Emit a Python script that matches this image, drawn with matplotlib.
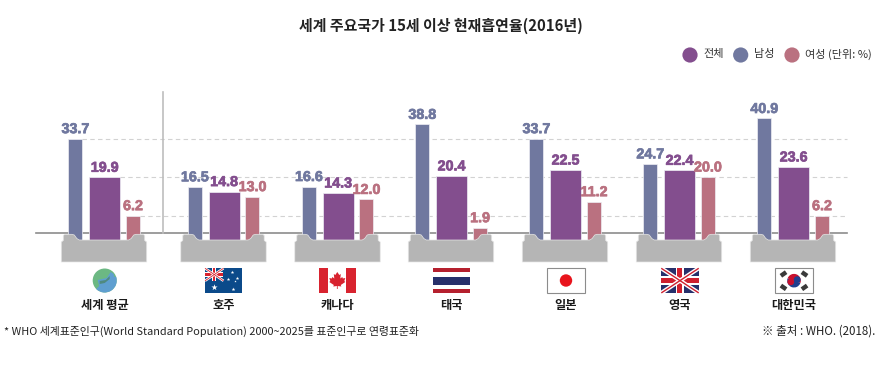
import numpy as np
import matplotlib
matplotlib.use("Agg")
import matplotlib.pyplot as plt
import matplotlib.patheffects as pe
from matplotlib.patches import Circle, Polygon, Rectangle, Wedge

plt.rcParams['font.family'] = ['Noto Sans CJK KR', 'DejaVu Sans']

countries = ["세계 평균", "호주", "캐나다", "태국", "일본", "영국", "대한민국"]
total = [19.9, 14.8, 14.3, 20.4, 22.5, 22.4, 23.6]
male = [33.7, 16.5, 16.6, 38.8, 33.7, 24.7, 40.9]
female = [6.2, 13.0, 12.0, 1.9, 11.2, 20.0, 6.2]
grid_values = [33.7, 19.9, 6.2]
legend_names = ["전체", "남성", "여성 (단위: %)"]

c_total = "#834e8e"
c_male = "#70789f"
c_female = "#ba7180"
c_ped = "#b5b5b5"

W, H = 878, 366
base_y = 233
scale = 2.8
sink = 2.5  # bars run down into the pedestal
centers = [104, 223.5, 337.5, 451, 565, 679, 793]

fig = plt.figure(figsize=(W / 100, H / 100), dpi=100)
ax = fig.add_axes([0, 0, 1, 1])
ax.set_xlim(0, W)
ax.set_ylim(-(H - base_y) / scale, base_y / scale)
ax.axis("off")

# pixel overlay for the pedestals, flags and text
px = fig.add_axes([0, 0, 1, 1], zorder=3)
px.set_xlim(0, W)
px.set_ylim(H, 0)
px.axis("off")
px.patch.set_alpha(0)

right_edges = [82, 120, 140]
for v, x0 in zip(grid_values, right_edges):
    ax.plot([x0, 847], [v, v], color="#d2d2d2", lw=0.8, ls=(0, (4, 3)), zorder=1)
ax.plot([36, 847], [0, 0], color="#8c8c8c", lw=1.2, zorder=1)
ax.plot([163, 163], [0, (base_y - 92) / scale], color="#bdbdbd", lw=1.2, zorder=1)

cx = np.array(centers)
for off, w, vals, col in [(-28.7, 14, male, c_male), (0.6, 31, total, c_total), (29, 14, female, c_female)]:
    ax.bar(cx + off, np.array(vals) + sink, w, bottom=-sink, color=col, edgecolor="#eeeef4", lw=0.5, zorder=2)
    for c, v in zip(centers, vals):
        ax.text(c + off, v + 5.5 / scale, f"{v:.1f}", color=col, ha="center", va="baseline",
                fontsize=10.3, family="Liberation Sans", fontweight="bold", zorder=4,
                path_effects=[pe.withStroke(linewidth=0.5, foreground=col)])

# pedestals
for c in centers:
    l, r = c - 42.7, c + 42.7
    pts = [(l, 262), (l, 242), (l + 2, 240.5), (l + 2, 235.5), (l + 3.5, 234.3), (l + 10.5, 234.3),
           (l + 13, 235), (l + 15.5, 238.5), (l + 18, 240), (r - 18, 240), (r - 15.5, 238.5),
           (r - 13, 235), (r - 10.5, 234.3), (r - 3.5, 234.3), (r - 2, 235.5), (r - 2, 240.5),
           (r, 242), (r, 262)]
    px.add_patch(Polygon(pts, closed=True, fc=c_ped, ec="#e6e6e6", lw=0.5))


# flags
def flag_box(c):
    return c - 18.7, 268.3, 37.4, 24.6


def globe(c):
    px.add_patch(Circle((c, 280.5), 12, fc="#6cb883", ec="none"))
    px.add_patch(Wedge((c, 280.5), 12, 340, 135, fc="#5f9fd0", ec="none"))
    px.add_patch(Polygon([(c - 7, 280), (c + 2, 278), (c + 6, 272), (c + 9, 274), (c + 10, 280), (c + 2, 284), (c - 5, 288)],
                         fc="#5f9fd0", ec="none"))
    px.add_patch(Polygon([(c - 5, 284), (c, 283), (c + 5, 279), (c + 5, 276), (c + 1, 280), (c - 5, 281)],
                         fc="#4f8a80", ec="none"))


def australia(c):
    x, y, w, h = flag_box(c)
    px.add_patch(Rectangle((x, y), w, h, fc="#0b4a8a", ec="none"))
    px.plot([x, x + 18.5], [y, y + 12.5], color="white", lw=1.8, solid_capstyle="butt")
    px.plot([x, x + 18.5], [y + 12.5, y], color="white", lw=1.8, solid_capstyle="butt")
    px.plot([x, x + 18.5], [y, y + 12.5], color="#d8232f", lw=0.6, solid_capstyle="butt")
    px.plot([x, x + 18.5], [y + 12.5, y], color="#d8232f", lw=0.6, solid_capstyle="butt")
    px.add_patch(Rectangle((x + 7, y), 4.5, 12.5, fc="white", ec="none"))
    px.add_patch(Rectangle((x, y + 4), 18.5, 4.5, fc="white", ec="none"))
    px.add_patch(Rectangle((x + 8, y), 2.5, 12.5, fc="#d8232f", ec="none"))
    px.add_patch(Rectangle((x, y + 5), 18.5, 2.5, fc="#d8232f", ec="none"))
    for sx, sy, s in [(9.5, 18.5, 22), (27.5, 4, 7), (32, 9.5, 7), (23, 10.5, 7), (28, 20.5, 8), (30, 13, 3)]:
        px.scatter(x + sx, y + sy, s=s, marker="*", color="white", lw=0)


def canada(c):
    x, y, w, h = flag_box(c)
    px.add_patch(Rectangle((x, y), w, h, fc="white", ec="none"))
    px.add_patch(Rectangle((x, y), 9.5, h, fc="#d8232f", ec="none"))
    px.add_patch(Rectangle((x + w - 9.5, y), 9.5, h, fc="#d8232f", ec="none"))
    leaf = [(0, -8), (2, -5), (3.5, -6), (3, -1.5), (5, -3), (5.5, -1.5), (8, -2), (7, 1), (8, 2),
            (3.5, 5), (4, 6.5), (0.4, 6), (0.4, 9), (-0.4, 9), (-0.4, 6), (-4, 6.5), (-3.5, 5),
            (-8, 2), (-7, 1), (-8, -2), (-5.5, -1.5), (-5, -3), (-3, -1.5), (-3.5, -6), (-2, -5)]
    px.add_patch(Polygon([(c + a, 280 + b) for a, b in leaf], fc="#d8232f", ec="none"))


def thailand(c):
    x, y, w, h = flag_box(c)
    colors = ["#b5202e", "white", "#27306b", "white", "#b5202e"]
    heights = [h / 6, h / 6, h / 3, h / 6, h / 6]
    yy = y
    for col, hh in zip(colors, heights):
        px.add_patch(Rectangle((x, yy), w, hh, fc=col, ec="none"))
        yy += hh


def japan(c):
    x, y, w, h = flag_box(c)
    px.add_patch(Rectangle((x, y), w, h, fc="white", ec="#8c8c8c", lw=0.8))
    px.add_patch(Circle((c, 280.5), 6.2, fc="#e8141c", ec="none"))


def uk(c):
    x, y, w, h = flag_box(c)
    px.add_patch(Rectangle((x, y), w, h, fc="#27306b", ec="none"))
    px.plot([x, x + w], [y, y + h], color="white", lw=3.0, solid_capstyle="butt")
    px.plot([x, x + w], [y + h, y], color="white", lw=3.0, solid_capstyle="butt")
    px.plot([x, x + w], [y, y + h], color="#cf1f2e", lw=1.0, solid_capstyle="butt")
    px.plot([x, x + w], [y + h, y], color="#cf1f2e", lw=1.0, solid_capstyle="butt")
    px.add_patch(Rectangle((c - 4.2, y), 8.4, h, fc="white", ec="none"))
    px.add_patch(Rectangle((x, 276.3), w, 8.4, fc="white", ec="none"))
    px.add_patch(Rectangle((c - 2.5, y), 5, h, fc="#cf1f2e", ec="none"))
    px.add_patch(Rectangle((x, 278), w, 5, fc="#cf1f2e", ec="none"))


def korea(c):
    x, y, w, h = flag_box(c)
    px.add_patch(Rectangle((x, y), w, h, fc="white", ec="#8c8c8c", lw=0.8))
    px.add_patch(Wedge((c, 280.7), 6.8, 200, 20, fc="#c8102e", ec="none"))
    px.add_patch(Wedge((c, 280.7), 6.8, 20, 200, fc="#1f3f8f", ec="none"))
    px.add_patch(Circle((c - 3.2, 281.8), 3.4, fc="#c8102e", ec="none"))
    px.add_patch(Circle((c + 3.2, 279.6), 3.4, fc="#1f3f8f", ec="none"))
    for sx, sy, a in [(-10.5, -6.7, -35), (10.5, -6.7, 35), (-10.5, 6.7, 35), (10.5, 6.7, -35)]:
        px.add_patch(Rectangle((c + sx - 3.2, 280.7 + sy - 2.2), 6.4, 4.4, fc="#3a3a3a", ec="none",
                               rotation_point="center", angle=a))


flags = [globe, australia, canada, thailand, japan, uk, korea]
flag_x = [104.7, 223.7, 337.3, 451.5, 566, 680, 794]
for f, fx in zip(flags, flag_x):
    f(fx)

for name, fx in zip(countries, flag_x):
    px.text(fx, 305, name, ha="center", va="center", fontsize=8.8, fontweight="bold", color="#1a1a1a")

px.text(441, 26, "세계 주요국가 15세 이상 현재흡연율(2016년)", ha="center", va="center",
        fontsize=10.75, fontweight="bold", color="#222222")

# legend
for lx, name, col, tx in zip([690, 740.7, 792], legend_names, [c_total, c_male, c_female], [703, 754, 805]):
    px.add_patch(Circle((lx, 55), 7.6, fc=col, ec="none"))
    px.text(tx, 54.5, name, ha="left", va="center", fontsize=8.0, color="#333333")

px.text(4, 331, "* WHO 세계표준인구(World Standard Population) 2000~2025를 표준인구로 연령표준화",
        ha="left", va="center", fontsize=7.85, color="#222222")
px.text(875, 331, "※ 출처 : WHO. (2018).", ha="right", va="center", fontsize=8.3, color="#222222")

fig.savefig("out.png", dpi=100)
